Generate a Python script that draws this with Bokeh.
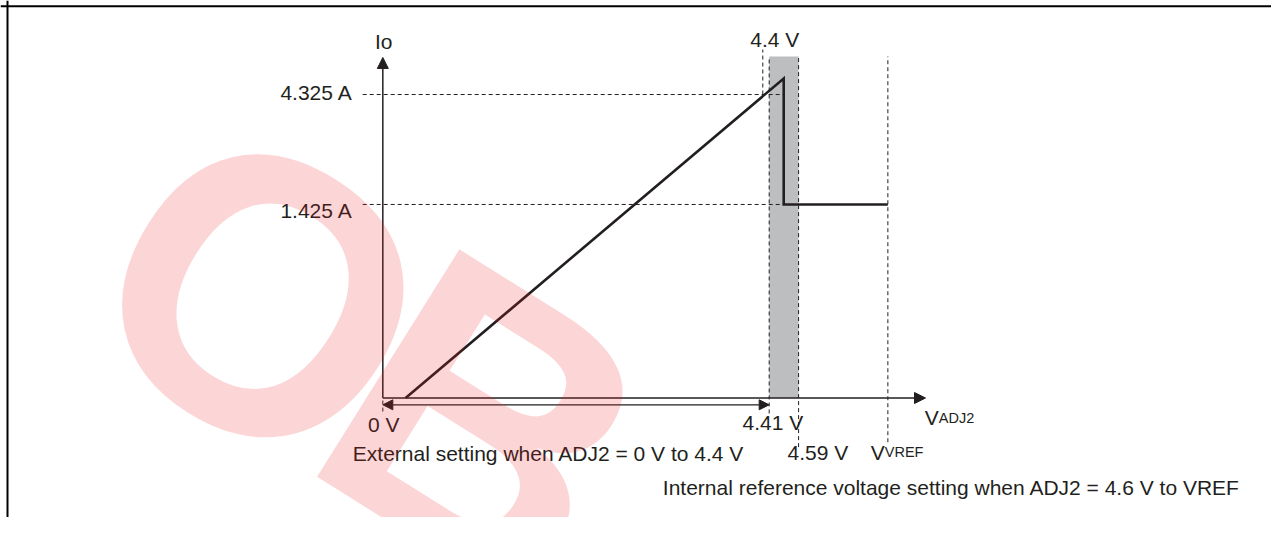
from bokeh.plotting import figure
from bokeh.models import Span, Arrow, NormalHead, Range1d, Label
from bokeh.core.properties import value
from bokeh.embed import file_html
from bokeh.resources import INLINE

# ---------------- data (schematic) ----------------
# horizontal unit: volts along the V_ADJ2 axis (schematic), vertical: Io (schematic)
v_axis_end = 6.20
io_axis_end = 4.853
level_labels = ["4.325 A", "1.425 A"]
level_io = [4.325, 2.758]
level_start_v = -0.23
level_end_v = 4.58
curve_v = [0.26, 4.58, 4.58, 5.77]
curve_io = [0.0, 4.553, 2.758, 2.758]
band_v = [4.414, 4.750]
band_top = 4.867
vline_v = [4.414, 4.750, 5.77]
vline_bottom = [-0.22, -0.70, -0.63]
tick0_v = 0.0
tick0_range = [-0.036, -0.22]
v44_line_v = 4.341
v44_line_range = [4.325, 4.966]
range_arrow_io = -0.097
range_arrow_v = [0.0, 4.414]

# labels: (text, x, y, align)
labels = [
    ("Io", 0.01, 5.08, "center"),
    ("4.325 A", -0.343, 4.354, "right"),
    ("1.425 A", -0.343, 2.672, "right"),
    ("4.4 V", 4.478, 5.109, "center"),
    ("0 V", 0.01, -0.378, "center"),
    ("4.41 V", 4.456, -0.349, "center"),
    ("4.59 V", 4.97, -0.776, "center"),
    ("External setting when ADJ2 = 0 V to 4.4 V", -0.343, -0.791, "left"),
    ("Internal reference voltage setting when ADJ2 = 4.6 V to VREF", 3.199, -1.276, "left"),
]
# symbols with small "subscript" part: (main, sub, x, y)
sub_labels = [
    ("V", "ADJ2", 6.192, -0.278),
    ("V", "VREF", 5.575, -0.776),
]
# watermark letters
wm_text = ["O", "B"]
wm_v = [-2.837, -0.186]
wm_io = [2.601, 0.705]

# ---------------- figure ----------------
X_RANGE = (-4.368, 10.153)
Y_RANGE = (-1.703, 5.665)
INK = "#231F20"
FONT = "Liberation Sans"

p = figure(width=1271, height=517, output_backend="svg", toolbar_location=None,
           x_range=Range1d(*X_RANGE), y_range=Range1d(*Y_RANGE),
           x_axis_location=None, y_axis_location=None, min_border=0)
p.xgrid.visible = False
p.ygrid.visible = False
p.outline_line_color = None
p.background_fill_color = "white"

# frame (top + left)
p.add_layout(Span(location=5.584, dimension="width", line_color="black", line_width=2))
p.add_layout(Span(location=-4.288, dimension="height", line_color="black", line_width=2))

# shaded band
p.quad(left=[band_v[0]], right=[band_v[1]], bottom=[0], top=[band_top],
       fill_color="#BCBEC0", line_color=None)

# dashed guides
for lv in level_io:
    p.line([level_start_v, level_end_v], [lv, lv], line_color=INK, line_width=1, line_dash="4 3")
for xv, yb in zip(vline_v, vline_bottom):
    p.line([xv, xv], [yb, band_top], line_color=INK, line_width=1, line_dash="4 3")
p.line([tick0_v, tick0_v], tick0_range, line_color=INK, line_width=1, line_dash="4 3")
p.line([v44_line_v, v44_line_v], v44_line_range, line_color=INK, line_width=1, line_dash="4 3")

# curve
p.line(curve_v, curve_io, line_color=INK, line_width=2.6, line_join="miter")

# axes with arrow heads
p.add_layout(Arrow(x_start=0, y_start=0, x_end=0, y_end=io_axis_end,
                   end=NormalHead(size=11, fill_color=INK, line_color=INK),
                   line_color=INK, line_width=1.5))
p.add_layout(Arrow(x_start=0, y_start=0, x_end=v_axis_end, y_end=0,
                   end=NormalHead(size=11, fill_color=INK, line_color=INK),
                   line_color=INK, line_width=1.5))
p.add_layout(Arrow(x_start=range_arrow_v[0], y_start=range_arrow_io,
                   x_end=range_arrow_v[1], y_end=range_arrow_io,
                   start=NormalHead(size=10, fill_color=INK, line_color=INK),
                   end=NormalHead(size=10, fill_color=INK, line_color=INK),
                   line_color=INK, line_width=1.2))

# texts
for t, x, y, al in labels:
    p.add_layout(Label(x=x, y=y, text=t, text_align=al, text_baseline="alphabetic",
                       text_font=FONT, text_font_size="21px", text_color=INK))
for main, sub, x, y in sub_labels:
    p.add_layout(Label(x=x, y=y, text=main, text_align="left", text_baseline="alphabetic",
                       text_font=FONT, text_font_size="21px", text_color=INK))
    p.add_layout(Label(x=x, y=y, x_offset=14, text=sub, text_align="left",
                       text_baseline="alphabetic",
                       text_font=FONT, text_font_size="14.5px", text_color=INK))

# watermark on top
p.text(x=wm_v, y=wm_io, text=wm_text, angle=-0.559,
       text_font=value("Liberation Sans"), text_font_style="bold",
       text_font_size="390px", text_color="#ED1C24", text_alpha=0.18,
       text_align="left", text_baseline="alphabetic", level="overlay")

open("out.html", "w").write(file_html(p, INLINE))
